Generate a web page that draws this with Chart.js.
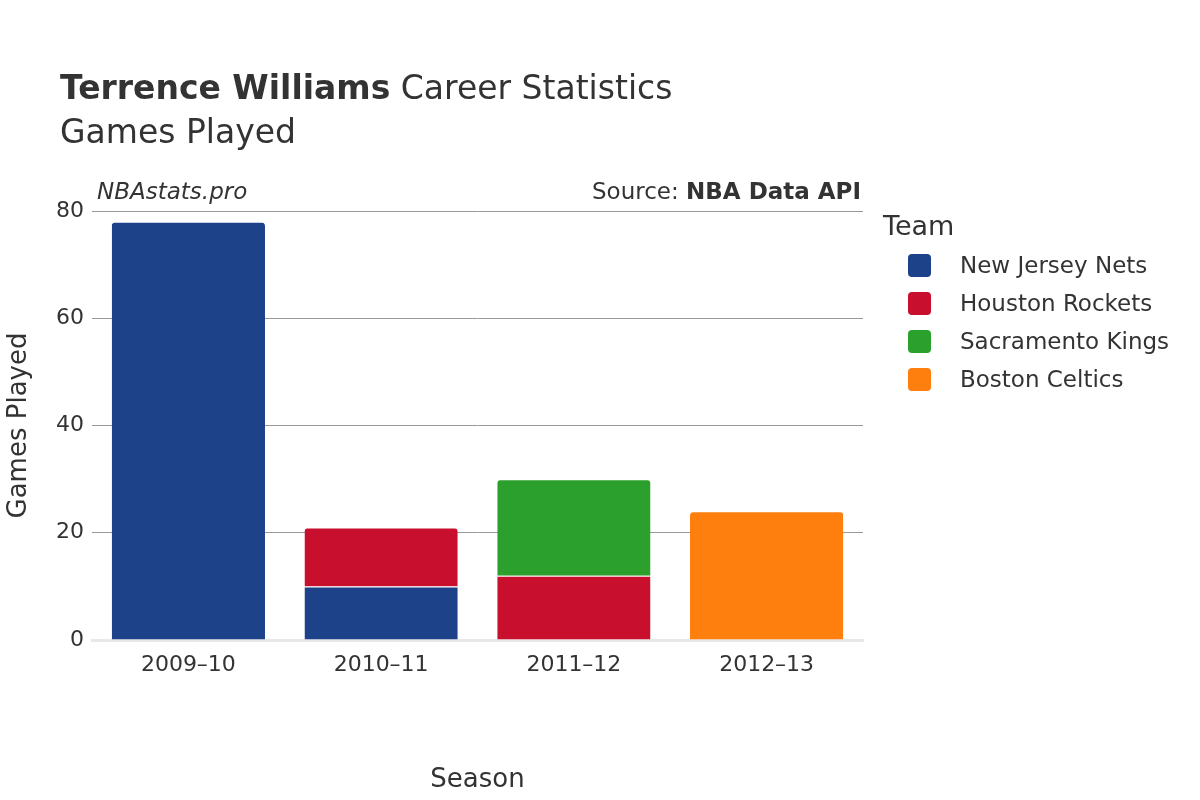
<!DOCTYPE html>
<html><head><meta charset="utf-8">
<script src="https://cdn.jsdelivr.net/npm/chart.js@4"></script>
<style>
body{margin:0;width:1200px;height:800px;background:#fff;font-family:"DejaVu Sans",sans-serif;color:#333;position:relative;overflow:hidden}
.t{position:absolute;white-space:nowrap}
canvas{position:absolute;left:0;top:0}
.sw{position:absolute;width:23px;height:23px;border-radius:4px}
</style></head><body>
<canvas id="c" width="1200" height="800"></canvas>
<div class="t" style="left:60px;top:68px;font-size:33px"><b>Terrence Williams</b> Career Statistics</div>
<div class="t" style="left:60px;top:112px;font-size:33px">Games Played</div>
<div class="t" style="left:97px;top:178px;font-size:23px;font-style:italic">NBAstats.pro</div>
<div class="t" style="right:339px;top:178px;font-size:23px">Source: <b>NBA Data API</b></div>
<div class="t" style="left:883px;top:210px;font-size:27px">Team</div>
<div id="lg"></div>
<script>
const seasons=["2009–10","2010–11","2011–12","2012–13"];
const teams=["New Jersey Nets","Houston Rockets","Sacramento Kings","Boston Celtics"];
const colors=["#1d428a","#c8102e","#2ca02c","#ff7f0e"];
const njn=[78,10,null,null];
const hou=[null,11,12,null];
const sac=[null,null,18,null];
const bos=[null,null,null,24];
const yTicks=[0,20,40,60,80];
const series=[njn,hou,sac,bos];
const lg=document.getElementById('lg');
teams.forEach((t,i)=>{
 const y=254+i*38;
 lg.insertAdjacentHTML('beforeend',`<div class="sw" style="left:908px;top:${y}px;background:${colors[i]}"></div><div class="t" style="left:960px;top:${y-2}px;font-size:23px">${t}</div>`);
});
new Chart(document.getElementById('c'),{
 type:'bar',
 data:{labels:seasons,datasets:series.map((d,i)=>({label:teams[i],data:d,backgroundColor:colors[i],borderColor:'#fff',borderWidth:{top:1},borderRadius:4,borderSkipped:'bottom',barPercentage:0.795,categoryPercentage:1}))},
 options:{responsive:false,animation:false,
  layout:{padding:{left:0,right:337,top:211,bottom:0}},
  plugins:{legend:{display:false},tooltip:{enabled:false}},
  scales:{
   x:{stacked:true,afterFit:s=>{s.height=160},grid:{display:false},border:{color:'#e8e8e8',width:3},
      ticks:{color:'#333',font:{family:'DejaVu Sans',size:22},padding:4},
      title:{display:true,text:'Season',color:'#333',font:{family:'DejaVu Sans',size:26},padding:{top:22}}},
   y:{stacked:true,min:0,max:80,afterFit:s=>{s.width=92},afterBuildTicks:s=>{s.ticks=yTicks.map(v=>({value:v}))},
      border:{display:false},grid:{color:c=>c.tick.value===0?'rgba(0,0,0,0)':'#999',tickLength:6,tickColor:'rgba(0,0,0,0)'},
      ticks:{color:'#333',font:{family:'DejaVu Sans',size:22},padding:2},
      title:{display:true,text:'Games Played',color:'#333',font:{family:'DejaVu Sans',size:26},padding:{bottom:6}}}
  }}
});
</script>
</body></html>
